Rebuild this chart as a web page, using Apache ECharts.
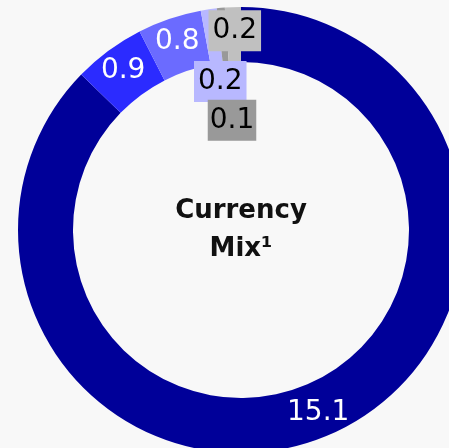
<!DOCTYPE html>
<html>
<head>
<meta charset="utf-8">
<script src="https://cdn.jsdelivr.net/npm/echarts@6/dist/echarts.min.js"></script>
<style>
html,body{margin:0;padding:0;background:#f8f8f8;}
#c{width:449px;height:448px;}
</style>
</head>
<body>
<div id="c"></div>
<script>
const categories = ['A', 'B', 'C', 'D', 'E', 'F'];
const values = [15.1, 0.9, 0.8, 0.2, 0.1, 0.2];
const colors = ['#000099', '#2b2bff', '#6b6bff', '#b8b8ff', '#999999', '#c0c0c0'];
const titleText = 'Currency\nMix\u00b9';

const FONT = '"DejaVu Sans", sans-serif';
const smallLabel = (bg, off, padX) => ({
  show: true, position: 'inside', color: '#000', fontFamily: FONT, fontSize: 28,
  backgroundColor: bg, padding: [6, padX, 5, padX], lineHeight: 30, offset: off
});
const labelCfg = [
  null, null, null,
  smallLabel(colors[3], [8, 48], 4),
  smallLabel(colors[4], [9, 88], 2),
  smallLabel(colors[5], [1, -1], 4)
];

const data = values.map((v, i) => {
  const d = { name: categories[i], value: v, itemStyle: { color: colors[i] } };
  if (labelCfg[i]) d.label = labelCfg[i];
  return d;
});

const chart = echarts.init(document.getElementById('c'));
chart.setOption({
  backgroundColor: '#f8f8f8',
  animation: false,
  graphic: [{
    type: 'text', x: 241, y: 230,
    style: {
      text: titleText, fill: '#111', font: 'bold 26px "DejaVu Sans", sans-serif',
      align: 'center', verticalAlign: 'middle', lineHeight: 38
    }
  }],
  series: [{
    type: 'pie',
    center: [241, 230],
    radius: [168, 223],
    startAngle: 90,
    clockwise: true,
    avoidLabelOverlap: false,
    minShowLabelAngle: 0,
    labelLayout: { hideOverlap: false },
    labelLine: { show: false },
    label: {
      show: true, position: 'inside', color: '#fff', fontFamily: FONT, fontSize: 28,
      formatter: p => p.value.toFixed(1)
    },
    emphasis: { disabled: true },
    data: data
  }]
});
</script>
</body>
</html>
